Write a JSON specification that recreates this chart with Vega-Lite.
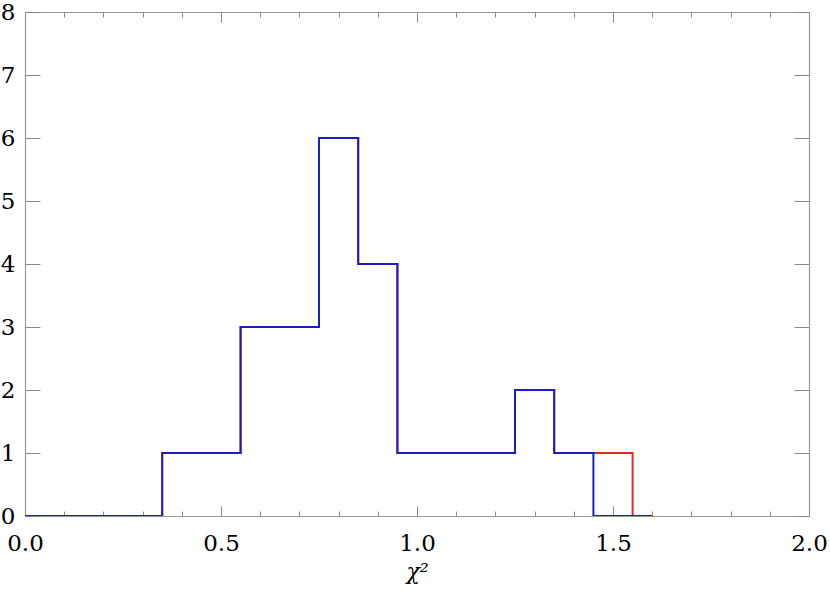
{
  "$schema": "https://vega.github.io/schema/vega-lite/v6.json",
  "width": 784,
  "height": 504,
  "autosize": "none",
  "padding": {"left": 25, "top": 12, "right": 21, "bottom": 77},
  "background": "white",
  "config": {"view": {"stroke": null}},
  "datasets": {
    "red": [
      {"x": 0.0, "y": 0}, {"x": 0.35, "y": 1}, {"x": 0.55, "y": 3}, {"x": 0.75, "y": 6},
      {"x": 0.85, "y": 4}, {"x": 0.95, "y": 1}, {"x": 1.25, "y": 2}, {"x": 1.35, "y": 1},
      {"x": 1.45, "y": 1}, {"x": 1.55, "y": 0}, {"x": 1.6, "y": 0}
    ],
    "blue": [
      {"x": 0.0, "y": 0}, {"x": 0.35, "y": 1}, {"x": 0.55, "y": 3}, {"x": 0.75, "y": 6},
      {"x": 0.85, "y": 4}, {"x": 0.95, "y": 1}, {"x": 1.25, "y": 2}, {"x": 1.35, "y": 1},
      {"x": 1.45, "y": 0}, {"x": 1.6, "y": 0}
    ]
  },
  "encoding": {
    "x": {
      "field": "x", "type": "quantitative",
      "scale": {"domain": [0, 2], "nice": false, "zero": false},
      "axis": null
    },
    "y": {
      "field": "y", "type": "quantitative",
      "scale": {"domain": [0, 8], "nice": false},
      "axis": null
    }
  },
  "layer": [
    {
      "data": {"name": "red"},
      "mark": {"type": "line", "interpolate": "step-after", "color": "#dd2a22", "strokeWidth": 2, "clip": true},
      "encoding": {
        "x": {"field": "x", "type": "quantitative", "scale": {"domain": [0, 2], "nice": false, "zero": false},
          "axis": {"orient": "bottom", "values": [0, 0.5, 1, 1.5, 2], "format": ".1f", "ticks": false, "domain": true, "domainColor": "#999999", "domainWidth": 1.2, "grid": false,
            "labelFont": "DejaVu Serif", "labelFontSize": 23, "labelColor": "#000000", "labelPadding": 16, "labelFlush": false,
            "title": "χ²", "titleFont": "DejaVu Serif", "titleFontSize": 22, "titleFontStyle": "italic", "titleFontWeight": "normal", "titleColor": "#000000", "titlePadding": 6}},
        "y": {"field": "y", "type": "quantitative", "scale": {"domain": [0, 8], "nice": false},
          "axis": {"orient": "left", "values": [0, 1, 2, 3, 4, 5, 6, 7, 8], "ticks": false, "domain": true, "domainColor": "#999999", "domainWidth": 1.2, "grid": false,
            "labelFont": "DejaVu Serif", "labelFontSize": 23, "labelColor": "#000000", "labelPadding": 10, "labelFlush": false, "title": null}}
      }
    },
    {
      "data": {"name": "blue"},
      "mark": {"type": "line", "interpolate": "step-after", "color": "#1c1cc8", "strokeWidth": 2, "clip": true},
      "encoding": {
        "x": {"field": "x", "type": "quantitative",
          "axis": {"orient": "top", "values": [0, 0.5, 1, 1.5, 2], "labels": false, "tickSize": -10, "tickColor": "#888888", "tickWidth": 1, "domain": true, "domainColor": "#999999", "domainWidth": 1.2, "grid": false, "title": null}},
        "y": {"field": "y", "type": "quantitative",
          "axis": {"orient": "right", "values": [0, 1, 2, 3, 4, 5, 6, 7, 8], "labels": false, "tickSize": -15, "tickColor": "#888888", "tickWidth": 1, "domain": true, "domainColor": "#999999", "domainWidth": 1.2, "grid": false, "title": null}}
      }
    },
    {
      "data": {"name": "blue"},
      "mark": {"type": "point", "opacity": 0},
      "encoding": {
        "x": {"field": "x", "type": "quantitative",
          "axis": {"orient": "bottom", "values": [0, 0.5, 1, 1.5, 2], "labels": false, "tickSize": -10, "tickColor": "#888888", "tickWidth": 1, "domain": false, "grid": false, "title": null}},
        "y": {"field": "y", "type": "quantitative",
          "axis": {"orient": "left", "values": [0, 1, 2, 3, 4, 5, 6, 7, 8], "labels": false, "tickSize": -15, "tickColor": "#888888", "tickWidth": 1, "domain": false, "grid": false, "title": null}}
      }
    },
    {
      "data": {"name": "blue"},
      "mark": {"type": "point", "opacity": 0},
      "encoding": {
        "x": {"field": "x", "type": "quantitative",
          "axis": {"orient": "bottom", "values": [0.1, 0.2, 0.3, 0.4, 0.6, 0.7, 0.8, 0.9, 1.1, 1.2, 1.3, 1.4, 1.6, 1.7, 1.8, 1.9], "labels": false, "tickSize": -5, "tickColor": "#888888", "tickWidth": 1, "domain": false, "grid": false, "title": null}}
      }
    },
    {
      "data": {"name": "blue"},
      "mark": {"type": "point", "opacity": 0},
      "encoding": {
        "x": {"field": "x", "type": "quantitative",
          "axis": {"orient": "top", "values": [0.1, 0.2, 0.3, 0.4, 0.6, 0.7, 0.8, 0.9, 1.1, 1.2, 1.3, 1.4, 1.6, 1.7, 1.8, 1.9], "labels": false, "tickSize": -5, "tickColor": "#888888", "tickWidth": 1, "domain": false, "grid": false, "title": null}}
      }
    }
  ]
}
